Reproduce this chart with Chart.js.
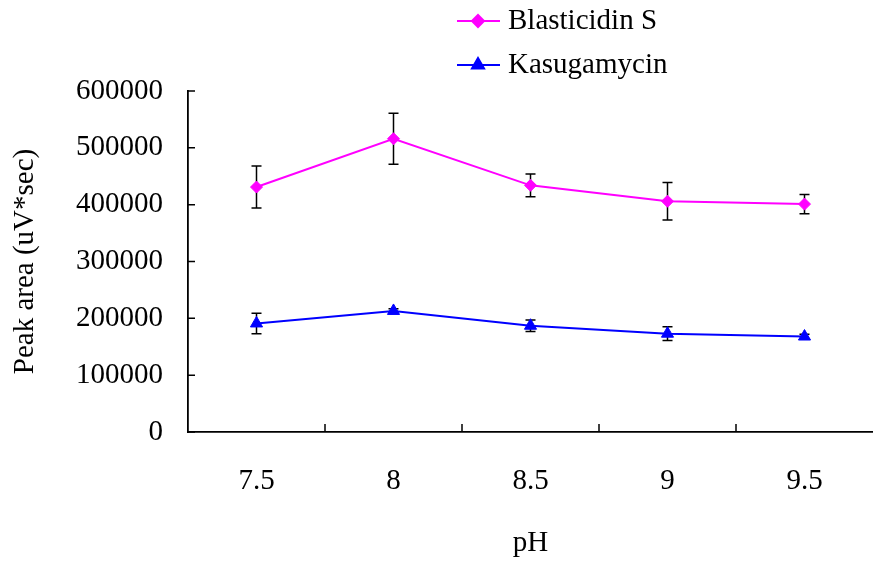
<!DOCTYPE html>
<html>
<head>
<meta charset="utf-8">
<script src="https://cdn.jsdelivr.net/npm/chart.js@4.4.1/dist/chart.umd.min.js"></script>
<style>
  html, body { margin: 0; padding: 0; background: #fff; }
  #wrap { width: 873px; height: 563px; }
</style>
</head>
<body>
<div id="wrap"><canvas id="phChart" width="873" height="563"></canvas></div>
<script>
const phLabels = ["7.5", "8", "8.5", "9", "9.5"];
const blasticidin = [431000, 516000, 434000, 406000, 401000];
const blasticidinErr = [37000, 45000, 20000, 33000, 17000];
const kasugamycin = [191000, 213000, 187000, 173000, 168000];
const kasugamycinErr = [18000, 4000, 10000, 12000, 4000];
const yTicks = [0, 100000, 200000, 300000, 400000, 500000, 600000];

const serif = "Liberation Serif";
const errors = [blasticidinErr, kasugamycinErr];

// error bars, inward ticks and the stacked legend
const extras = {
  id: "extras",
  beforeDatasetsDraw(chart) {
    const { ctx, scales: { x, y } } = chart;
    ctx.save();
    ctx.strokeStyle = "#000";
    ctx.lineWidth = 1.5;
    chart.data.datasets.forEach((ds, di) => {
      ds.data.forEach((v, i) => {
        const px = x.getPixelForValue(i);
        const top = y.getPixelForValue(v + errors[di][i]);
        const bot = y.getPixelForValue(v - errors[di][i]);
        ctx.beginPath();
        ctx.moveTo(px, top); ctx.lineTo(px, bot);
        ctx.moveTo(px - 5, top); ctx.lineTo(px + 5, top);
        ctx.moveTo(px - 5, bot); ctx.lineTo(px + 5, bot);
        ctx.stroke();
      });
    });
    ctx.restore();
  },
  afterDraw(chart) {
    const { ctx, chartArea, scales: { x, y } } = chart;
    ctx.save();
    ctx.strokeStyle = "#000";
    ctx.lineWidth = 1.5;
    ctx.beginPath();
    yTicks.forEach(t => {
      const py = y.getPixelForValue(t);
      ctx.moveTo(chartArea.left, py); ctx.lineTo(chartArea.left + 7, py);
    });
    for (let i = 1; i < phLabels.length; i++) {
      const px = (x.getPixelForValue(i - 1) + x.getPixelForValue(i)) / 2;
      ctx.moveTo(px, chartArea.bottom); ctx.lineTo(px, chartArea.bottom - 8);
    }
    ctx.stroke();

    // legend
    const rows = [
      { label: "Blasticidin S", color: "#ff00ff", style: "rectRot", r: 6, y: 21 },
      { label: "Kasugamycin", color: "#0000ff", style: "triangle", r: 7, y: 65 }
    ];
    rows.forEach(row => {
      ctx.strokeStyle = row.color;
      ctx.lineWidth = 2;
      ctx.beginPath();
      ctx.moveTo(457, row.y); ctx.lineTo(500, row.y);
      ctx.stroke();
      ctx.fillStyle = row.color;
      Chart.helpers.drawPoint(ctx, { pointStyle: row.style, radius: row.r, borderWidth: 1 }, 478, row.y);
      ctx.fill();
      ctx.fillStyle = "#000";
      ctx.font = Chart.helpers.toFont({ family: serif, size: 29 }).string;
      ctx.textBaseline = "middle";
      ctx.textAlign = "left";
      ctx.fillText(row.label, 508, row.y);
    });
    ctx.restore();
  }
};

new Chart(document.getElementById("phChart"), {
  type: "line",
  data: {
    labels: phLabels,
    datasets: [
      {
        label: "Blasticidin S",
        data: blasticidin,
        borderColor: "#ff00ff",
        backgroundColor: "#ff00ff",
        borderWidth: 2,
        pointStyle: "rectRot",
        pointRadius: 6,
        pointBorderWidth: 1,
        tension: 0
      },
      {
        label: "Kasugamycin",
        data: kasugamycin,
        borderColor: "#0000ff",
        backgroundColor: "#0000ff",
        borderWidth: 2,
        pointStyle: "triangle",
        pointRadius: 7,
        pointBorderWidth: 1,
        tension: 0
      }
    ]
  },
  options: {
    responsive: false,
    animation: false,
    layout: { autoPadding: false, padding: { top: 91, right: -6, left: 0, bottom: 0 } },
    plugins: {
      legend: { display: false },
      tooltip: { enabled: false }
    },
    scales: {
      x: {
        offset: true,
        grid: { display: false, drawTicks: false },
        border: { color: "#000", width: 1.8 },
        ticks: { color: "#000", font: { family: serif, size: 29 }, padding: 32, maxRotation: 0 },
        title: { display: true, text: "pH", color: "#000", font: { family: serif, size: 29 }, padding: { top: 0, bottom: 2 } },
        afterFit(s) { s.height = 131; s.paddingLeft = 0; s.paddingRight = 0; }
      },
      y: {
        min: 0,
        max: 600000,
        grid: { display: false, drawTicks: false },
        border: { color: "#000", width: 1.8 },
        ticks: { stepSize: 100000, color: "#000", font: { family: serif, size: 29 }, padding: 25, callback: v => String(v) },
        title: { display: true, text: "Peak area (uV*sec)", color: "#000", font: { family: serif, size: 29 }, padding: { top: 8, bottom: 0 } },
        afterFit(s) { s.width = 188; }
      }
    }
  },
  plugins: [extras]
});
</script>
</body>
</html>
